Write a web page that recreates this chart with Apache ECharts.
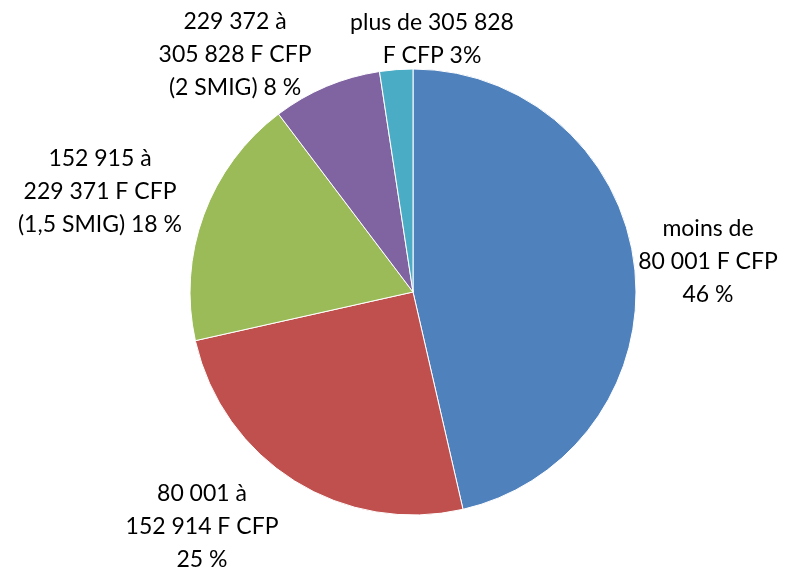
<!DOCTYPE html>
<html>
<head>
<meta charset="utf-8">
<script src="https://cdn.jsdelivr.net/npm/echarts@6/dist/echarts.min.js"></script>
<style>
  html, body { margin: 0; padding: 0; background: #fff; }
  #chart { width: 794px; height: 570px; }
</style>
</head>
<body>
<div id="chart"></div>
<script>
var tranches = [
    'moins de\n80 001 F CFP\n46 %',
    '80 001 à\n152 914 F CFP\n25 %',
    '152 915 à\n229 371 F CFP\n(1,5 SMIG) 18 %',
    '229 372 à\n305 828 F CFP\n(2 SMIG) 8 %',
    'plus de 305 828\nF CFP 3%'
];
var parts = [46.4, 25.1, 18.2, 7.9, 2.4];
var couleurs = ['#4F81BD', '#C0504D', '#9BBB59', '#8064A2', '#4BACC6'];

// position des étiquettes (centre du bloc de texte)
var etiquettes = [[708, 262], [202, 527], [100, 192], [235, 55], [432, 39]];

var chart = echarts.init(document.getElementById('chart'));
chart.setOption({
    animation: false,
    color: couleurs,
    series: [{
        type: 'pie',
        center: [413, 292],
        radius: 223,
        startAngle: 90,
        clockwise: true,
        itemStyle: { borderColor: '#fff', borderWidth: 1 },
        label: {
            show: true,
            position: 'outside',
            formatter: '{b}',
            color: '#000',
            fontFamily: 'Lato',
            fontSize: 23,
            lineHeight: 33,
            align: 'center',
            overflow: 'none'
        },
        labelLine: { show: false },
        labelLayout: function (p) {
            var pos = etiquettes[p.dataIndex];
            return { x: pos[0], y: pos[1], align: 'center', verticalAlign: 'middle', width: 300 };
        },
        data: tranches.map(function (t, i) {
            return { name: t, value: parts[i] };
        })
    }]
});
</script>
</body>
</html>
